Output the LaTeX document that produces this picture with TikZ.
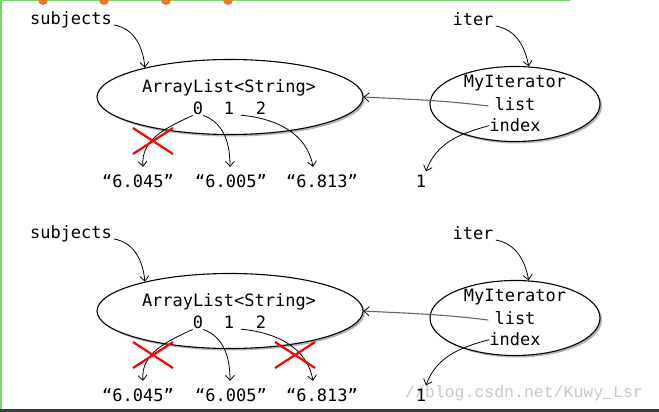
\documentclass[tikz,border=0pt]{standalone}
\usepackage{fontspec}
\setmonofont{DejaVu Sans Mono}
\newfontfamily\wmfont{Liberation Mono}
\usetikzlibrary{shapes.geometric,shadows,arrows.meta}
\definecolor{scrgreen}{RGB}{110,220,110}
\definecolor{scrorange}{RGB}{232,122,40}
\definecolor{scrbar}{RGB}{58,58,58}
\begin{document}
\begin{tikzpicture}[x=1pt,y=1pt,
  lbl/.style={font=\ttfamily\fontsize{17}{17}\selectfont, inner sep=0pt, anchor=base},
  obj/.style={draw, ellipse, line width=1.1pt, fill=white, inner sep=0pt,
    drop shadow={shadow xshift=2pt, shadow yshift=-2pt, opacity=0.3, fill=black}},
  ptr/.style={-{Straight Barb[length=5pt,width=9pt]}, line width=0.8pt},
  cross/.style={draw=red, line width=2.2pt}
  ]
\fill[white] (0,0) rectangle (659,412);
\useasboundingbox (0,0) rectangle (659,412);
% screenshot frame
\fill[scrgreen] (0,0) rectangle (1.5,412);
\fill[scrgreen] (0,410.5) rectangle (570,412);
\foreach \x in {43,104,166,228} \fill[scrorange] (\x,412) circle (5);
\fill[scrbar] (0,0) rectangle (659,3);
\node[anchor=base west, font=\wmfont\fontsize{16.5}{16.5}\selectfont, text=black!22, inner sep=0pt] (wm) at (405,14) {//blog.csdn.net/Kuwy\_Lsr};

\foreach \k/\s in {a/0,b/214}{
\begin{scope}[yshift=-\s pt]
  \node[obj, minimum width=266pt, minimum height=75pt] (al\k) at (230,315) {};
  \node[obj, minimum width=170pt, minimum height=75pt] (it\k) at (515,308) {};
  \node[lbl] (subj\k) at (71,387) {subjects};
  \node[lbl] (alt\k) at (229,319) {ArrayList<String>};
  \node[lbl] (i0\k) at (198,297) {0};
  \node[lbl] (i1\k) at (229,297) {1};
  \node[lbl] (i2\k) at (261,297) {2};
  \node[lbl] (s0\k) at (138,224) {“6.045”};
  \node[lbl] (s1\k) at (231,224) {“6.005”};
  \node[lbl] (s2\k) at (322,224) {“6.813”};
  \node[lbl] (iter\k) at (473,386) {iter};
  \node[lbl] (myit\k) at (515,324) {MyIterator};
  \node[lbl] (list\k) at (515,301) {list};
  \node[lbl] (idx\k) at (515,280) {index};
  \node[lbl] (one\k) at (421,224) {1};
  \draw[ptr] ([xshift=2pt]subj\k.base east) to[out=-10,in=95] (al\k.161);
  \draw[ptr] ([xshift=2pt]iter\k.base east) to[out=-10,in=100] (it\k.70);
  \draw[ptr] (i0\k.south west) to[out=205,in=95] ([shift={(5,8)}]s0\k.north);
  \draw[ptr] (i0\k.south east) to[out=-20,in=90] ([shift={(-1,8)}]s1\k.north);
  \draw[ptr] ([xshift=-15pt]i2\k.south west) to[out=-5,in=100] ([shift={(-9,8)}]s2\k.north);
  \draw[line width=1.1pt, draw=black!60, -{Straight Barb[length=5pt,width=9pt,color=black,line width=0.8pt]}]
    ([shift={(-6,5)}]list\k.base west) to[out=173,in=-3] (al\k.east);
  \draw[ptr] (idx\k.west) to[out=195,in=70] ([shift={(5,4)}]one\k.north);
  \draw[cross] (133,284) -- (173,258) (133,258) -- (173,284);
\end{scope}
}
\draw[cross] (275,70) -- (315,44) (275,44) -- (315,70);
\end{tikzpicture}
\end{document}
